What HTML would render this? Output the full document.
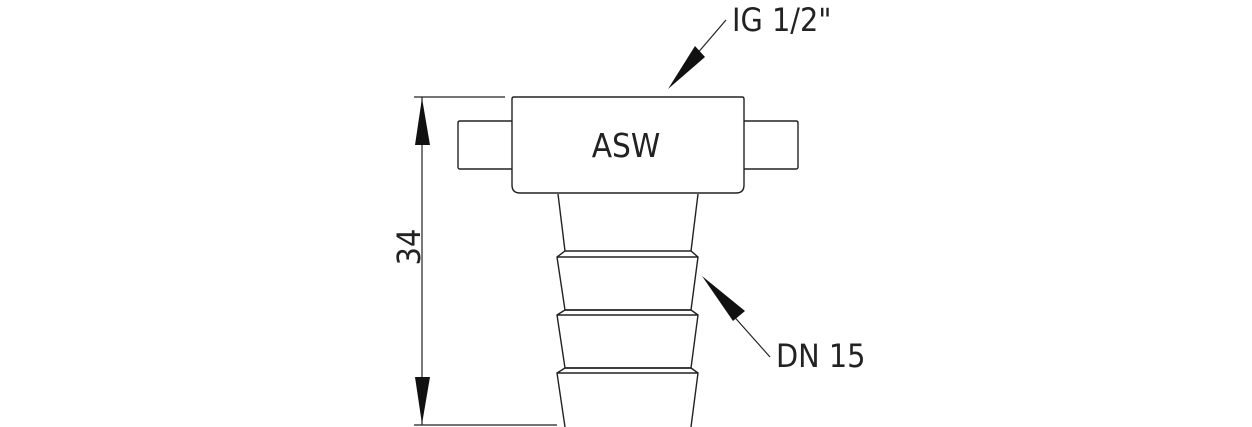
<!DOCTYPE html>
<html><head><style>body{margin:0;background:#fff}svg{display:block}</style></head><body>
<svg width="1252" height="427" viewBox="0 0 1252 427" xmlns="http://www.w3.org/2000/svg">
<g fill="none" stroke="#222" stroke-width="1.4">
<path d="M512 99 Q512 97 514 97 L742 97 Q744 97 744 99 L744 185 Q744 193 736 193 L520 193 Q512 193 512 185 Z"/>
<path d="M512 121 L460 121 Q458 121 458 123 L458 167 Q458 169 460 169 L512 169"/>
<path d="M744 121 L796 121 Q798 121 798 123 L798 167 Q798 169 796 169 L744 169"/>
<path d="M558 194 L565 251 M698 194 L691 251"/>
<path d="M565 251 L691 251 L698 257 L691 310 L565 310 L557 257 Z M557 257 L698 257"/>
<path d="M565 310 L691 310 L698 315 L691 368 L565 368 L557 315 Z M557 315 L698 315"/>
<path d="M565 368 L691 368 L698 373 L691 427 M565 427 L557 373 L565 368 M557 373 L698 373"/>
</g>
<g stroke="#222" stroke-width="1.2">
<line x1="414" y1="97" x2="505" y2="97"/>
<line x1="414" y1="425" x2="557" y2="425"/>
<line x1="422" y1="97" x2="422" y2="425"/>
<line x1="726" y1="20" x2="690" y2="62"/>
<line x1="770" y1="357" x2="730" y2="312"/>
</g>
<g fill="#111">
<polygon points="422,98 415,145 430,145"/>
<polygon points="422,424 415,377 430,377"/>
<polygon points="668,89 695,46 705,57"/>
<polygon points="702,276 745,311 733,321"/>
</g>
<g font-family="'DejaVu Sans Condensed','Liberation Sans',sans-serif" fill="#222" font-size="33">
<text x="626" y="157" text-anchor="middle">ASW</text>
<text x="732" y="31" font-size="32">IG 1/2"</text>
<text x="776" y="367" font-size="32">DN 15</text>
<text transform="translate(420,247) rotate(-90)" text-anchor="middle" font-size="32">34</text>
</g>
</svg>
</body></html>
